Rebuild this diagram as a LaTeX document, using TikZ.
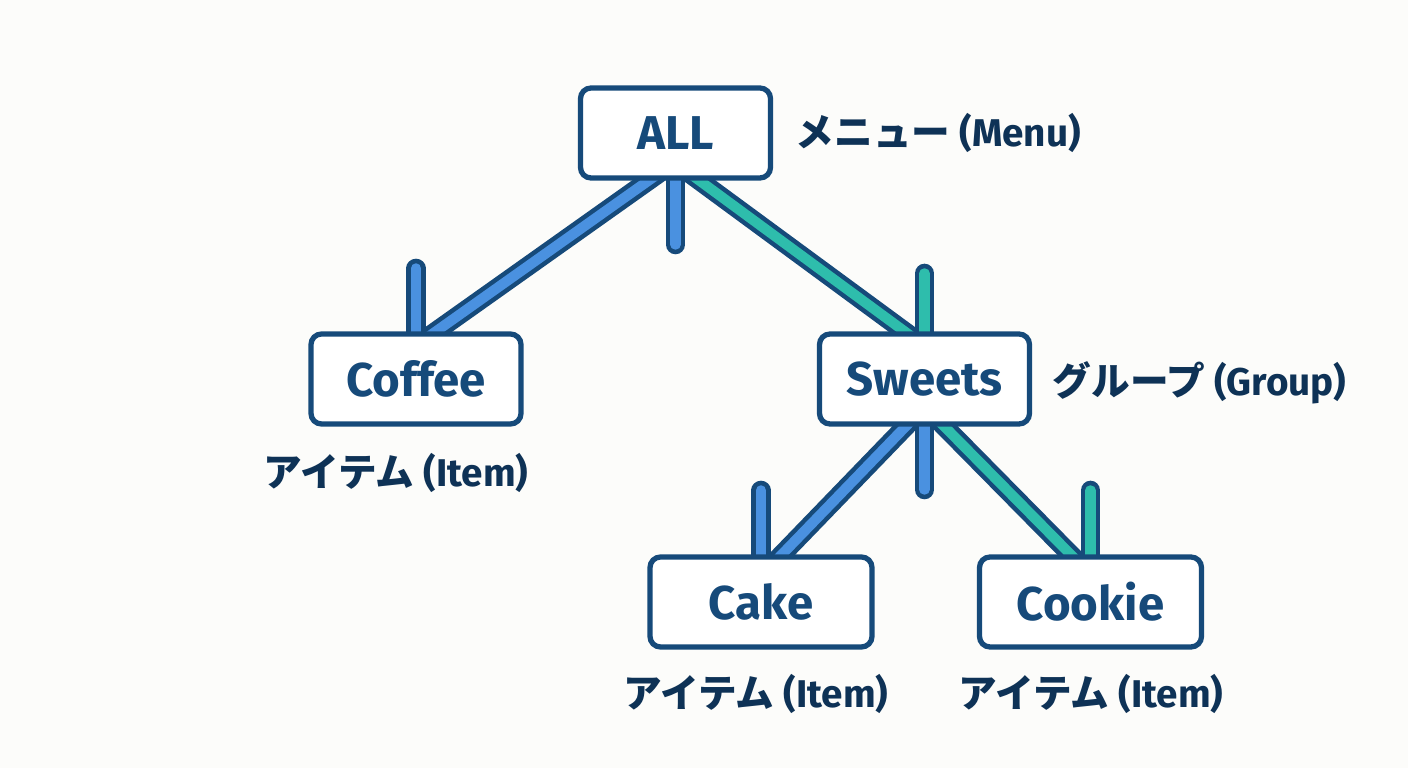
\documentclass[tikz,border=0pt]{standalone}
\usepackage{fontspec}
\setmainfont{Fira Sans}
\newfontfamily\jpfont{Noto Sans CJK JP}
\usepackage{tikz}
\usetikzlibrary{positioning,calc,backgrounds}
\definecolor{edgenavy}{RGB}{22,74,122}
\definecolor{textnavy}{RGB}{14,50,86}
\definecolor{linkblue}{RGB}{74,145,224}
\definecolor{linkteal}{RGB}{46,189,172}
\definecolor{paper}{RGB}{252,252,250}

\begin{document}
\begin{tikzpicture}[
    box/.style={draw=edgenavy, line width=1.5pt, fill=white, rounded corners=3pt, minimum height=0.9cm, font=\fontsize{13.5}{15}\selectfont\bfseries, text=edgenavy},
    tag/.style={font=\fontsize{11}{13}\selectfont\bfseries, text=textnavy, inner sep=0pt},
    link/.style={draw=edgenavy, line width=1.3pt, double=#1, double distance=2.9pt, shorten <=-4pt, shorten >=-4pt},
    stub/.style={draw=edgenavy, line width=1.3pt, double=#1, double distance=2.9pt, line cap=round}
]
\node[box, minimum width=1.9cm] (all) at (6.755, 6.35) {ALL};
\node[box, minimum width=2.1cm] (coffee) at (4.16, 3.89) {Coffee};
\node[box, minimum width=2.1cm] (sweets) at (9.245, 3.89) {Sweets};
\node[box, minimum width=2.22cm] (cake) at (7.61, 1.66) {Cake};
\node[box, minimum width=2.22cm] (cookie) at (10.905, 1.66) {Cookie};

\node[tag, anchor=west] (menu) at (7.95, 6.35) {{\jpfont メニュー} (Menu)};
\node[tag, anchor=west] (group) at (10.52, 3.85) {{\jpfont グループ} (Group)};
\node[tag] (itemA) at (3.96, 2.95) {{\jpfont アイテム} (Item)};
\node[tag] (itemB) at (7.56, 0.74) {{\jpfont アイテム} (Item)};
\node[tag] (itemC) at (10.91, 0.74) {{\jpfont アイテム} (Item)};

\begin{scope}[on background layer]
\fill[paper] (0,0) rectangle (14.08,7.68);
% branches
\draw[link=linkblue] ($(all.south)+(-0.27,0)$) -- ($(coffee.north)+(0.2,0)$);
\draw[link=linkteal] ($(all.south)+(0.24,0)$) -- ($(sweets.north)+(-0.2,0)$);
\draw[link=linkblue] ($(sweets.south)+(-0.19,0)$) -- ($(cake.north)+(0.21,0)$);
\draw[link=linkteal] ($(sweets.south)+(0.2,0)$) -- ($(cookie.north)+(-0.2,0)$);
% stubs
\draw[stub=linkblue] (all.south) -- ++(0,-0.64);
\draw[stub=linkblue] (coffee.north) -- ++(0,0.63);
\draw[stub=linkteal] (sweets.north) -- ++(0,0.58);
\draw[stub=linkblue] (sweets.south) -- ++(0,-0.63);
\draw[stub=linkblue] (cake.north) -- ++(0,0.64);
\draw[stub=linkteal] (cookie.north) -- ++(0,0.64);
\end{scope}
\end{tikzpicture}
\end{document}
